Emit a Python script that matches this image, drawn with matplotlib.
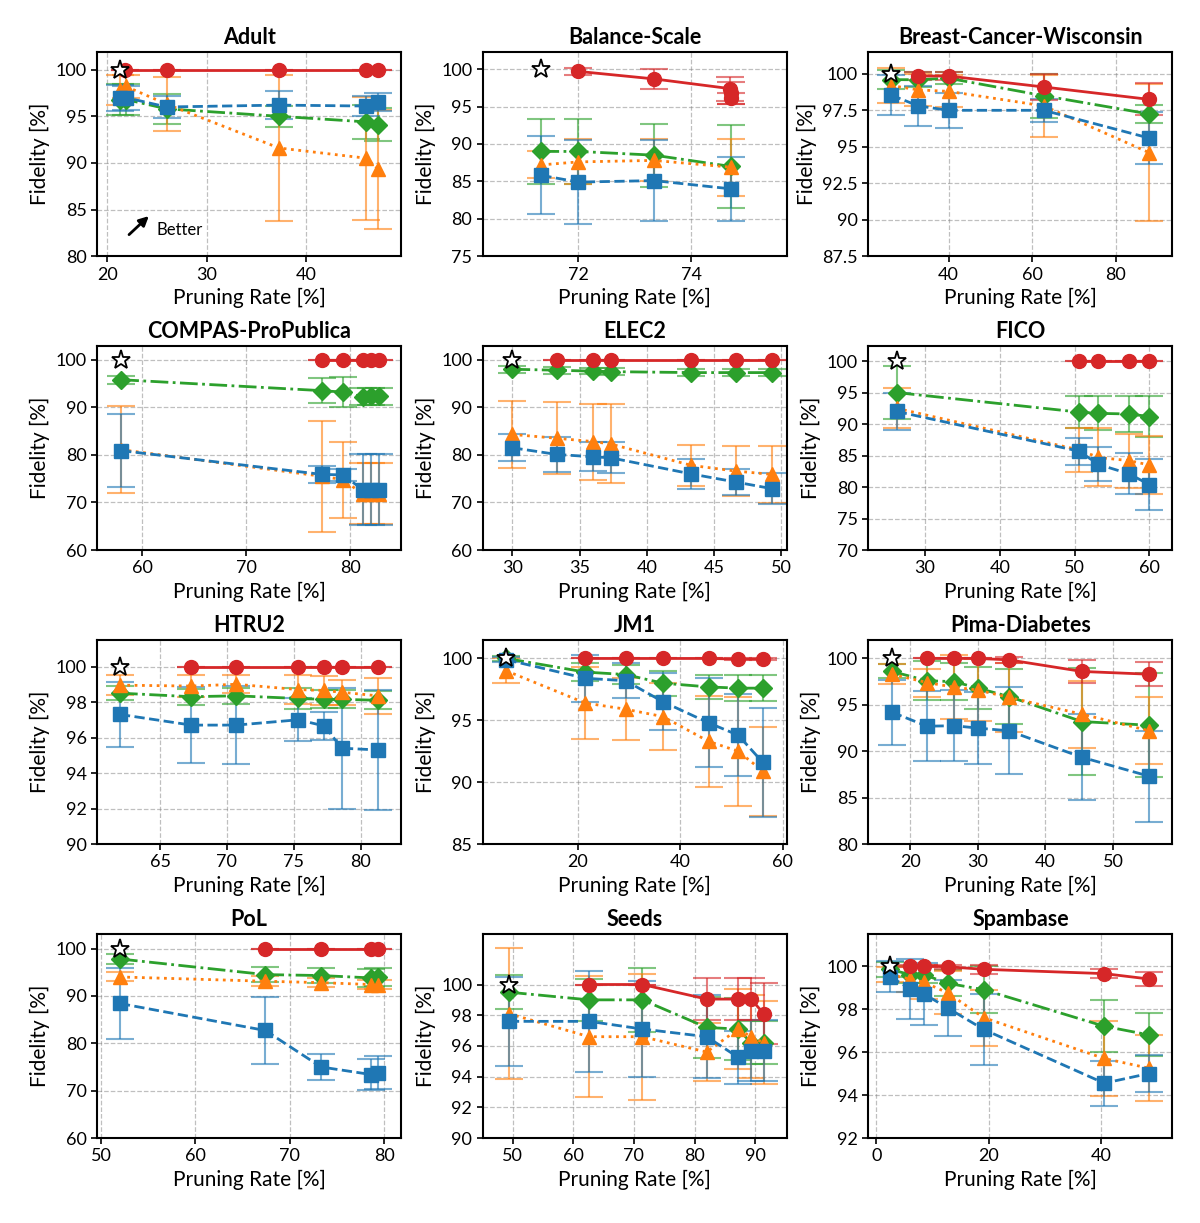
import matplotlib
matplotlib.use("Agg")
import matplotlib.pyplot as plt
from matplotlib.ticker import FuncFormatter
import numpy as np

plt.rcParams['font.family'] = ['Lato', 'DejaVu Sans']

titles = ['Adult', 'Balance-Scale', 'Breast-Cancer-Wisconsin', 'COMPAS-ProPublica',
          'ELEC2', 'FICO', 'HTRU2', 'JM1', 'Pima-Diabetes', 'PoL', 'Seeds', 'Spambase']

# pruning rate of the original model (star)
star_x = [21.3, 71.34, 26.2, 58.0, 30.0, 26.2, 62.0, 6.0, 17.3, 52.0, 49.4, 2.5]

# pruning rates shared by the green / orange / blue methods
rates = [
    [21.3, 21.9, 26.0, 37.3, 46.1, 47.3],
    [71.34, 72.0, 73.34, 74.7],
    [26.2, 32.8, 40.0, 62.8, 88.0],
    [58.0, 77.3, 79.3, 81.2, 82.0, 82.8],
    [30.0, 33.3, 36.0, 37.3, 43.3, 46.6, 49.3],
    [26.2, 50.6, 53.2, 57.3, 60.0],
    [62.0, 67.35, 70.7, 75.35, 77.3, 78.6, 81.3],
    [6.0, 21.4, 29.3, 36.6, 45.5, 51.3, 56.1],
    [17.3, 22.5, 26.5, 30.0, 34.6, 45.4, 55.4],
    [52.0, 67.4, 73.3, 78.6, 79.3],
    [49.4, 62.6, 71.4, 82.0, 87.2, 89.3, 91.4],
    [2.5, 6.0, 8.5, 12.7, 19.1, 40.5, 48.4],
]

red_rates = [
    [21.8, 26.0, 37.3, 46.1, 47.3],
    [72.0, 73.34, 74.69, 74.70, 74.71],
    [32.8, 40.0, 62.8, 88.0],
    [77.3, 79.3, 81.2, 82.0, 82.8],
    [33.3, 36.0, 37.3, 43.3, 46.6, 49.3],
    [50.6, 53.2, 57.3, 60.0],
    [67.35, 70.7, 75.35, 77.3, 78.6, 81.3],
    [21.4, 29.3, 36.6, 45.5, 51.3, 56.1],
    [22.5, 26.5, 30.0, 34.6, 45.4, 55.4],
    [67.4, 73.3, 78.6, 79.3],
    [62.6, 71.4, 82.0, 87.2, 89.3, 91.4],
    [6.0, 8.5, 12.7, 19.1, 40.5, 48.4],
]
red_mean = [
    [100, 100, 100, 100, 100],
    [99.7, 98.7, 97.4, 96.8, 96.1],
    [99.85, 99.85, 99.1, 98.25],
    [100, 100, 100, 100, 100],
    [100, 100, 100, 100, 100, 100],
    [100, 100, 100, 100],
    [100, 100, 100, 100, 100, 100],
    [100, 100, 100, 100, 99.95, 99.95],
    [100, 100, 100, 99.85, 98.6, 98.3],
    [100, 100, 100, 100],
    [100, 100, 99.05, 99.05, 99.05, 98.1],
    [100, 100, 99.97, 99.85, 99.65, 99.4],
]
red_std = [
    [0, 0, 0, 0, 0],
    [0.5, 1.3, 1.6, 1.5, 0.7],
    [0.3, 0.3, 0.9, 1.1],
    [0, 0, 0, 0, 0],
    [0, 0, 0, 0, 0, 0],
    [0, 0, 0, 0],
    [0, 0, 0, 0, 0, 0],
    [0, 0, 0, 0, 0.05, 0.05],
    [0, 0, 0, 0.3, 1.2, 1.3],
    [0, 0, 0, 0],
    [0, 0, 1.35, 1.35, 1.35, 2.0],
    [0.05, 0.05, 0.1, 0.2, 0.2, 0.33],
]

green_mean = [
    [96.8, 96.8, 95.8, 95.0, 94.4, 94.1],
    [89.0, 89.0, 88.5, 87.0],
    [99.6, 99.6, 99.7, 98.5, 97.25],
    [95.8, 93.5, 93.2, 92.2, 92.3, 92.3],
    [98.0, 97.8, 97.6, 97.5, 97.3, 97.3, 97.3],
    [95.0, 91.9, 91.7, 91.6, 91.2],
    [98.5, 98.3, 98.35, 98.2, 98.15, 98.15, 98.1],
    [100, 98.9, 98.7, 98.0, 97.7, 97.6, 97.6],
    [98.6, 97.6, 97.5, 96.8, 95.9, 93.2, 92.8],
    [97.8, 94.5, 94.3, 93.8, 93.9],
    [99.5, 99.0, 99.0, 97.2, 97.1, 96.2, 96.2],
    [99.85, 99.6, 99.6, 99.2, 98.9, 97.2, 96.8],
]
green_std = [
    [1.7, 1.7, 1.6, 1.1, 1.8, 1.8],
    [4.4, 4.4, 4.2, 5.6],
    [0.65, 0.5, 0.4, 1.5, 0.6],
    [0.8, 2.6, 3.2, 1.8, 1.8, 1.8],
    [0.7, 0.7, 0.7, 0.7, 0.7, 0.7, 0.7],
    [4.2, 2.5, 2.7, 2.9, 3.3],
    [0.4, 0.45, 0.45, 0.6, 0.5, 0.5, 0.5],
    [0.2, 0.75, 0.8, 1.0, 0.95, 1.05, 1.05],
    [0.75, 2.1, 2.0, 2.3, 3.0, 5.8, 5.6],
    [1.0, 1.6, 1.6, 1.9, 1.9],
    [1.1, 1.35, 2.1, 2.0, 2.0, 1.4, 1.4],
    [0.35, 0.4, 0.4, 0.6, 1.1, 1.2, 1.0],
]

orange_mean = [
    [97.8, 98.2, 96.3, 91.6, 90.5, 89.3],
    [87.2, 87.6, 87.8, 86.9],
    [99.2, 98.9, 98.8, 97.8, 94.6],
    [81.1, 75.5, 74.8, 71.8, 71.8, 71.8],
    [84.3, 83.5, 82.8, 82.3, 77.8, 76.6, 75.9],
    [92.5, 85.9, 84.7, 84.2, 83.5],
    [98.95, 98.9, 99.0, 98.7, 98.65, 98.55, 98.35],
    [99.0, 96.4, 95.9, 95.3, 93.3, 92.5, 90.9],
    [98.3, 97.4, 96.9, 96.6, 95.8, 94.0, 92.2],
    [94.0, 93.1, 92.8, 92.4, 92.4],
    [98.1, 96.6, 96.6, 95.6, 97.1, 96.6, 96.2],
    [99.6, 99.4, 99.25, 98.75, 97.6, 95.7, 95.25],
]
orange_std = [
    [1.6, 1.2, 2.9, 7.8, 6.6, 6.4],
    [1.8, 3.0, 2.8, 3.8],
    [1.2, 1.1, 1.1, 2.1, 4.7],
    [9.2, 11.7, 8.0, 6.4, 6.4, 6.4],
    [7.0, 7.6, 8.0, 8.3, 4.3, 5.3, 6.0],
    [3.2, 3.5, 4.6, 4.3, 4.6],
    [0.55, 0.6, 0.5, 0.8, 0.8, 0.7, 1.0],
    [1.0, 2.9, 2.5, 2.7, 3.7, 4.4, 3.6],
    [1.05, 1.5, 3.45, 3.35, 3.7, 3.6, 3.6],
    [0.95, 1.0, 1.0, 0.9, 0.9],
    [4.25, 3.95, 4.1, 1.9, 2.6, 2.7, 2.7],
    [0.35, 0.6, 0.8, 1.0, 1.3, 1.75, 1.55],
]

blue_mean = [
    [97.0, 97.0, 96.0, 96.2, 96.1, 96.5],
    [85.8, 84.9, 85.1, 84.0],
    [98.55, 97.8, 97.5, 97.5, 95.6],
    [80.9, 75.9, 75.8, 72.7, 72.7, 72.7],
    [81.5, 80.1, 79.6, 79.4, 76.0, 74.3, 72.9],
    [92.0, 85.7, 83.6, 82.1, 80.4],
    [97.3, 96.7, 96.7, 97.0, 96.65, 95.4, 95.3],
    [99.9, 98.4, 98.2, 96.5, 94.8, 93.8, 91.6],
    [94.2, 92.7, 92.75, 92.5, 92.2, 89.35, 87.3],
    [88.4, 82.7, 75.0, 73.4, 73.8],
    [97.6, 97.6, 97.1, 96.6, 95.25, 95.7, 95.7],
    [99.5, 98.95, 98.7, 98.05, 97.05, 94.55, 95.0],
]
blue_std = [
    [1.4, 1.3, 1.2, 1.5, 1.1, 0.95],
    [5.2, 5.6, 5.4, 4.3],
    [1.35, 1.4, 1.2, 0.8, 1.8],
    [7.7, 1.7, 1.2, 7.4, 7.4, 7.4],
    [2.85, 3.6, 3.05, 3.3, 3.1, 2.8, 3.3],
    [2.95, 2.15, 2.7, 3.25, 4.1],
    [1.85, 2.15, 2.2, 1.2, 0.8, 3.4, 3.4],
    [0.2, 1.9, 1.4, 2.3, 3.6, 3.3, 4.4],
    [3.5, 3.75, 3.85, 3.85, 4.7, 4.65, 4.9],
    [7.4, 7.1, 2.7, 3.2, 3.5],
    [2.9, 3.3, 3.1, 2.7, 1.7, 2.0, 2.0],
    [0.72, 1.4, 1.45, 1.3, 1.65, 1.05, 0.87],
]

# axis ranges and ticks per panel
xlims = [(19.0, 49.6), (70.3, 75.7), (20.8, 93.6), (55.7, 84.9), (27.8, 50.4), (22.4, 63.1),
         (60.3, 83.05), (1.4, 60.8), (13.8, 58.8), (49.6, 81.8), (45.1, 95.2), (-1.4, 52.6)]
xticks = [[20, 30, 40], [72, 74], [40, 60, 80], [60, 70, 80], [30, 35, 40, 45, 50],
          [30, 40, 50, 60], [65, 70, 75, 80], [20, 40, 60], [20, 30, 40, 50],
          [50, 60, 70, 80], [50, 60, 70, 80, 90], [0, 20, 40]]
ylims = [(80, 101.9), (75, 102.3), (87.5, 101.5), (60, 102.9), (60, 102.9), (70, 102.4),
         (90, 101.5), (85, 101.5), (80, 102.0), (60, 103.1), (90, 103.3), (92, 101.5)]
yticks = [np.arange(80, 101, 5), np.arange(75, 101, 5), np.arange(87.5, 100.1, 2.5),
          np.arange(60, 101, 10), np.arange(60, 101, 10), np.arange(70, 101, 5),
          np.arange(90, 101, 2), np.arange(85, 101, 5), np.arange(80, 101, 5),
          np.arange(60, 101, 10), np.arange(90, 101, 2), np.arange(92, 101, 2)]

fig, axes = plt.subplots(4, 3, figsize=(12, 12.23), dpi=100)
fig.subplots_adjust(left=0.081, right=0.977, top=0.9575, bottom=0.0695,
                    wspace=0.268, hspace=0.44)


def errplot(ax, x, y, s, color, marker, ls, ms):
    eb = ax.errorbar(x, y, yerr=s, color=color, marker=marker, ls=ls, lw=2,
                     ms=ms, capsize=10, elinewidth=1.5, capthick=1.5)
    for c in eb[1]:
        c.set_alpha(0.6)
    for b in eb[2]:
        b.set_alpha(0.6)


for i, ax in enumerate(axes.flat):
    ax.grid(True, ls='--', color='gray', alpha=0.5, lw=0.9)
    ax.set_axisbelow(True)
    errplot(ax, rates[i], green_mean[i], green_std[i], 'tab:green', 'D', '-.', 9)
    errplot(ax, rates[i], orange_mean[i], orange_std[i], 'tab:orange', '^', ':', 10)
    errplot(ax, rates[i], blue_mean[i], blue_std[i], 'tab:blue', 's', '--', 10)
    errplot(ax, red_rates[i], red_mean[i], red_std[i], 'tab:red', 'o', '-', 10)
    ax.plot(star_x[i], 100, marker='*', ms=14, mfc='white', mec='black', mew=1.3,
            ls='none', zorder=10)

    ax.set_xlim(xlims[i])
    ax.set_ylim(ylims[i])
    ax.set_xticks(xticks[i])
    ax.set_yticks(yticks[i])
    ax.yaxis.set_major_formatter(FuncFormatter(lambda v, p: '%g' % v))
    ax.tick_params(labelsize=13, width=1.2, length=4)
    for sp in ax.spines.values():
        sp.set_linewidth(1.5)
    ax.set_title(titles[i], fontsize=15.5, fontweight='bold')
    ax.set_xlabel('Pruning Rate [%]', fontsize=15)
    ax.set_ylabel('Fidelity [%]', fontsize=15)

axes[0, 0].annotate('', xy=(24.4, 84.5), xytext=(22.0, 82.1),
                    arrowprops=dict(arrowstyle='-|>', color='black', lw=2, mutation_scale=14))
axes[0, 0].text(25.0, 82.8, 'Better', fontsize=12, va='center')

fig.savefig('out.png', dpi=100)
